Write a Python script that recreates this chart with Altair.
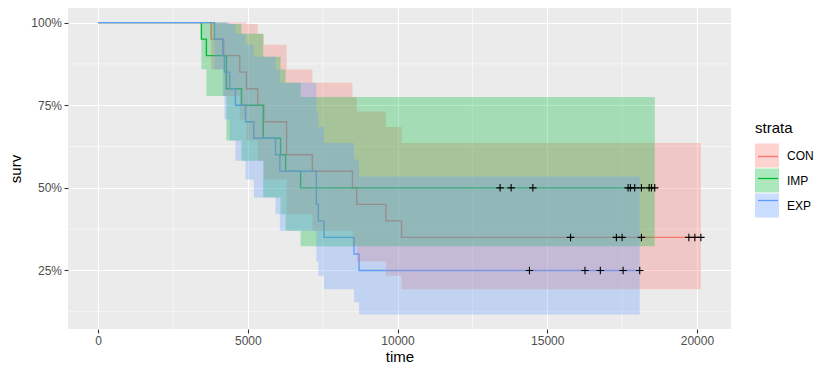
import altair as alt
import pandas as pd

strata = ["CON", "IMP", "EXP"]
colors = ["#F8766D", "#00BA38", "#619CFF"]

# CON
con_time = [0, 3773, 4195, 4731, 4955, 5330, 5534, 6294, 7155, 8494, 8638, 9609, 10134]
con_surv = [1, 0.95, 0.90, 0.85, 0.80, 0.75, 0.70, 0.60, 0.55, 0.50, 0.45, 0.40, 0.35]
con_upper = [1, 1, 1, 1, 0.996, 0.966, 0.933, 0.858, 0.818, 0.775, 0.731, 0.684, 0.636]
con_lower = [1, 0.859, 0.778, 0.707, 0.643, 0.582, 0.525, 0.420, 0.370, 0.323, 0.277, 0.234, 0.193]
con_cens = [15779, 17309, 17500, 18146, 19730, 19930, 20131]

# IMP
imp_time = [0, 3448, 3616, 4285, 4788, 5514, 6093, 6261, 6763]
imp_surv = [1, 0.95, 0.90, 0.80, 0.75, 0.65, 0.60, 0.55, 0.50]
imp_upper = [1, 1, 1, 0.996, 0.966, 0.897, 0.858, 0.818, 0.775]
imp_lower = [1, 0.859, 0.778, 0.643, 0.582, 0.471, 0.420, 0.370, 0.323]
imp_cens = [13425, 13794, 14520, 17700, 17777, 17921, 18146, 18404, 18481, 18591]

# EXP
exp_time = [0, 3884, 4162, 4218, 4396, 4587, 4922, 5199, 5926, 6070, 7288, 7355, 7543, 8547, 8715]
exp_surv = [1, 0.95, 0.90, 0.85, 0.80, 0.75, 0.70, 0.65, 0.60, 0.55, 0.45, 0.40, 0.35, 0.30, 0.25]
exp_upper = [1, 1, 1, 1, 0.996, 0.966, 0.933, 0.897, 0.858, 0.818, 0.731, 0.684, 0.636, 0.586, 0.534]
exp_lower = [1, 0.859, 0.778, 0.707, 0.643, 0.582, 0.525, 0.471, 0.420, 0.370, 0.277, 0.234, 0.193, 0.154, 0.117]
exp_cens = [14406, 16261, 16773, 17533, 18089]

x_major = [0, 5000, 10000, 15000, 20000]
x_minor = [2500, 7500, 12500, 17500]
y_major = [0.25, 0.50, 0.75, 1.00]
y_minor = [0.125, 0.375, 0.625, 0.875]

FONT = "Liberation Sans"

rows, cens_rows = [], []
for name, t, s, u, l, c in [
    ("CON", con_time, con_surv, con_upper, con_lower, con_cens),
    ("IMP", imp_time, imp_surv, imp_upper, imp_lower, imp_cens),
    ("EXP", exp_time, exp_surv, exp_upper, exp_lower, exp_cens),
]:
    for ti, si, ui, li in zip(t, s, u, l):
        rows.append(dict(strata=name, group=name, time=ti, surv=si, upper=ui, lower=li))
    for ci in c:
        rows.append(dict(strata=name, group=name, time=ci, surv=s[-1], upper=u[-1], lower=l[-1]))
        cens_rows.append(dict(strata=name, time=ci, surv=s[-1]))

df = pd.DataFrame(rows)
cdf = pd.DataFrame(cens_rows)

tmax = max(df["time"])
lmin = min(df["lower"])
xscale = alt.Scale(domain=[-0.05 * tmax, 1.05 * tmax], nice=False, zero=False)
yscale = alt.Scale(domain=[lmin - 0.05 * (1 - lmin), 1 + 0.05 * (1 - lmin)], nice=False, zero=False)

xaxis = alt.Axis(values=x_major, format="d", titlePadding=3, labelPadding=2.5)
yaxis = alt.Axis(values=y_major, format=".0%", titlePadding=7, labelPadding=2.5)


def X(field):
    return alt.X(field, type="quantitative", scale=xscale, axis=xaxis, title="time")


def Y(field):
    return alt.Y(field, type="quantitative", scale=yscale, axis=yaxis, title="surv")


minor_x = alt.Chart(pd.DataFrame({"v": x_minor})).mark_rule(color="white", strokeWidth=0.55).encode(x=X("v"))
minor_y = alt.Chart(pd.DataFrame({"v": y_minor})).mark_rule(color="white", strokeWidth=0.55).encode(y=Y("v"))

lines = alt.Chart(df).mark_line(interpolate="step-after", strokeWidth=1.4).encode(
    x=X("time"),
    y=Y("surv"),
    stroke=alt.Stroke(
        "group:N", sort=strata, scale=alt.Scale(range=colors),
        legend=alt.Legend(
            title=" ", orient="none", legendX=689, legendY=115,
            symbolType="stroke", symbolSize=400, symbolStrokeWidth=1.3, rowPadding=5,
            titleColor="rgba(0,0,0,0)", labelExpr="''",
            titleFont=FONT, titleFontSize=15, titleFontWeight="normal", titlePadding=7.5,
            labelFont=FONT, labelFontSize=12, labelOffset=8,
        ),
    ),
)

areas = alt.Chart(df).mark_area(interpolate="step-after", opacity=0.3).encode(
    x=X("time"),
    y=Y("lower"),
    y2="upper",
    fill=alt.Fill(
        "strata:N", sort=strata, scale=alt.Scale(range=colors),
        legend=alt.Legend(
            title="strata", orient="none", legendX=687, legendY=113,
            symbolType="square", symbolSize=576, symbolStrokeWidth=0, symbolOpacity=0.33, rowPadding=1,
            titleColor="black", labelColor="black",
            titleFont=FONT, titleFontSize=15, titleFontWeight="normal", titlePadding=7.5,
            labelFont=FONT, labelFontSize=12, labelOffset=8,
        ),
    ),
)

cens = alt.Chart(cdf).mark_point(
    shape="M-1,0H1M0,-1V1", filled=False, color="black", size=56, strokeWidth=1.1, opacity=1
).encode(x=X("time"), y=Y("surv"))

chart = alt.layer(minor_x, minor_y, lines, areas, cens).properties(
    width=663, height=321,
    autosize=alt.AutoSizeParams(type="none"),
    padding={"left": 60, "top": 0, "right": 91, "bottom": 40},
).configure_view(
    fill="#EBEBEB", strokeWidth=0
).configure_axis(
    domain=False, tickColor="#333333", tickSize=4, tickWidth=1.1,
    labelColor="#4D4D4D", labelFont=FONT, labelFontSize=12,
    titleFont=FONT, titleFontSize=15, titleFontWeight="normal", titleColor="black",
    gridColor="white", gridWidth=1.1,
)

chart.save("out.html", embed_options={"renderer": "svg", "actions": False})
